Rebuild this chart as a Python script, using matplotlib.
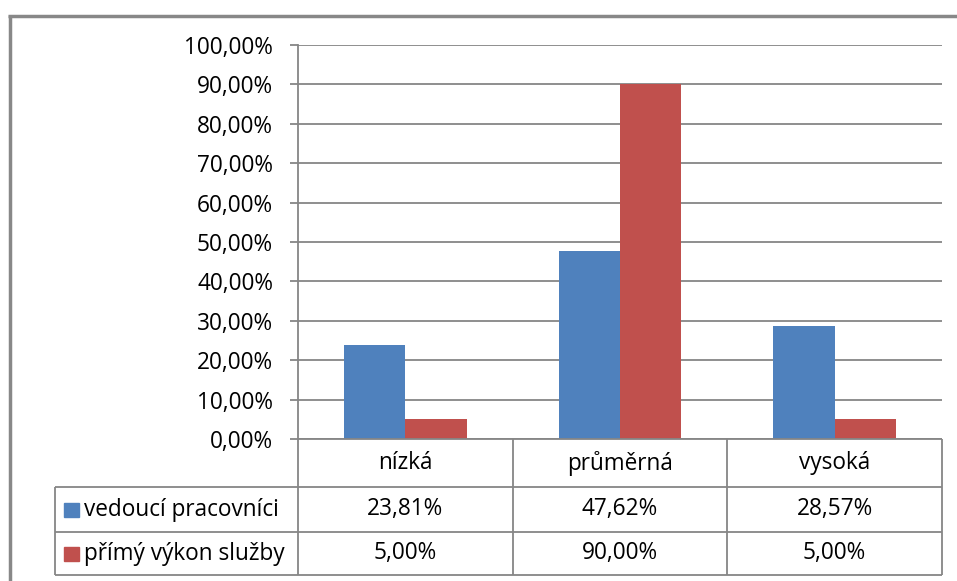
import matplotlib
matplotlib.use("Agg")
import matplotlib.pyplot as plt
from matplotlib.lines import Line2D
from matplotlib.patches import Rectangle

categories = ["nízká", "průměrná", "vysoká"]
series_names = ["vedoucí pracovníci", "přímý výkon služby"]
vedouci = [23.81, 47.62, 28.57]
primy = [5.00, 90.00, 5.00]
y_ticks = [0, 10, 20, 30, 40, 50, 60, 70, 80, 90, 100]
colors = ["#4F81BD", "#C0504D"]

W, H = 957, 581
plt.rcParams["font.family"] = ["Open Sans", "DejaVu Sans"]
FS = 16.3
GRID = "#868686"

fig = plt.figure(figsize=(W / 100, H / 100), dpi=100)


def fx(x):
    return x / W


def fy(y):
    return 1 - y / H


def hline(x0, x1, y, lw=1.3, color=GRID):
    fig.add_artist(Line2D([fx(x0), fx(x1)], [fy(y), fy(y)], transform=fig.transFigure,
                          color=color, lw=lw, solid_capstyle="butt"))


def vline(x, y0, y1, lw=1.3, color=GRID):
    fig.add_artist(Line2D([fx(x), fx(x)], [fy(y0), fy(y1)], transform=fig.transFigure,
                          color=color, lw=lw, solid_capstyle="butt"))


def pct(v):
    return f"{v:.2f}".replace(".", ",") + "%"


# plot area
L, R, T, B = 298, 942, 45, 439
ax = fig.add_axes([fx(L), fy(B), fx(R) - fx(L), fy(T) - fy(B)])
ax.set_xlim(0, len(categories))
ax.set_ylim(0, 100)
bw = 0.285
for i in range(len(categories)):
    ax.bar(i + 0.5 - bw / 2, vedouci[i], width=bw, color=colors[0], zorder=3)
    ax.bar(i + 0.5 + bw / 2, primy[i], width=bw, color=colors[1], zorder=3)
for s in ["top", "right", "bottom"]:
    ax.spines[s].set_visible(False)
ax.spines["left"].set_color(GRID)
ax.spines["left"].set_linewidth(1.3)
ax.set_yticks(y_ticks)
ax.set_yticklabels([pct(v) for v in y_ticks], fontsize=FS)
ax.tick_params(axis="y", length=6, width=1.3, color=GRID, pad=12)
ax.set_xticks([])
ax.yaxis.grid(True, color=GRID, lw=1.3, zorder=0)
ax.set_axisbelow(True)

# data table
col_x = [298, 513, 727, 942]
row_y = [439, 487, 532, 575]
leg_x = 55
hline(298, 942, row_y[0])
for y in row_y[1:]:
    hline(leg_x, 942, y)
for x in col_x:
    vline(x, row_y[0], row_y[-1])
vline(leg_x, row_y[1], row_y[-1])

for j, name in enumerate(categories):
    cx = (col_x[j] + col_x[j + 1]) / 2
    fig.text(fx(cx), fy((row_y[0] + row_y[1]) / 2), name, ha="center", va="center", fontsize=FS)

rows = [vedouci, primy]
for r, vals in enumerate(rows):
    cy = (row_y[r + 1] + row_y[r + 2]) / 2
    fig.add_artist(Rectangle((fx(64), fy(cy + 7)), fx(15), fy(0) - fy(14),
                             transform=fig.transFigure, color=colors[r]))
    fig.text(fx(84), fy(cy), series_names[r], ha="left", va="center", fontsize=FS)
    for j, v in enumerate(vals):
        cx = (col_x[j] + col_x[j + 1]) / 2
        fig.text(fx(cx), fy(cy), pct(v), ha="center", va="center", fontsize=FS)

# chart frame
hline(8, W, 16, lw=2.5, color="#888888")
vline(9.5, 15, H, lw=2.5, color="#888888")

fig.savefig("out.png", dpi=100)
